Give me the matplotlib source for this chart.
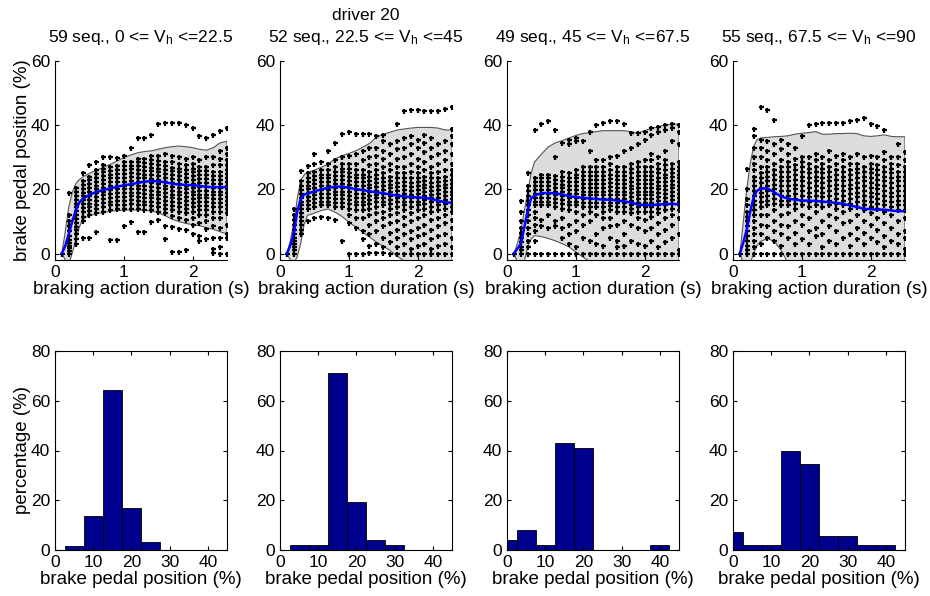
import numpy as np
import matplotlib.pyplot as plt

plt.rcParams['font.family'] = ['Liberation Sans', 'DejaVu Sans']
plt.rcParams['mathtext.fontset'] = 'custom'
plt.rcParams['mathtext.rm'] = 'Liberation Sans'
plt.rcParams['mathtext.it'] = 'Liberation Sans'
plt.rcParams['font.size'] = 12

# --- sampled brake pedal positions per 0.1 s column ---
col_t = [0.1, 0.2, 0.3, 0.4, 0.5, 0.6, 0.7, 0.8, 0.9, 1.0, 1.1, 1.2, 1.3,
         1.4, 1.5, 1.6, 1.7, 1.8, 1.9, 2.0, 2.1, 2.2, 2.3, 2.4, 2.5]

cols_v1 = [
    [0],
    [0, 0.8, 1.6, 2.5, 3.4, 4.3, 5.5, 7, 8.5, 10, 12, 19],
    [3, 4.5, 6, 7.2, 8.4, 9.6, 10.8, 12, 13.2, 14.4, 15.6, 16.8, 18, 19.2, 20.4],
    [5, 10, 11.5, 13, 14.2, 15.4, 16.6, 17.8, 19, 20.2, 21.4, 22.6, 25],
    [5, 12, 13.2, 14.4, 15.6, 16.8, 18, 19.2, 20.4, 21.6, 22.8, 24, 27.5],
    [6.6, 12.5, 14, 15.2, 16.4, 17.6, 18.8, 20, 21.2, 22.4, 23.6, 24.8, 26, 28.5],
    [13, 14.5, 15.7, 16.9, 18.1, 19.3, 20.5, 21.7, 22.9, 24.1, 25.3, 26.5, 27.7, 30],
    [4.2, 13.5, 15, 16.2, 17.4, 18.6, 19.8, 21, 22.2, 23.4, 24.6, 25.8, 27, 30],
    [4.2, 13.8, 15.2, 16.4, 17.6, 18.8, 20, 21.2, 22.4, 23.6, 24.8, 26, 27.2, 29.8],
    [8.5, 13.8, 15.2, 16.4, 17.6, 18.8, 20, 21.2, 22.4, 23.6, 24.8, 26, 27.2, 28.4, 30.5],
    [9.7, 14, 15.4, 16.6, 17.8, 19, 20.2, 21.4, 22.6, 23.8, 25, 26.2, 27.4, 28.6, 33],
    [6.8, 13.8, 15.2, 16.4, 17.6, 18.8, 20, 21.2, 22.4, 23.6, 24.8, 26, 27.2, 28.4, 29.6, 36],
    [6.8, 13.5, 15, 16.2, 17.4, 18.6, 19.8, 21, 22.2, 23.4, 24.6, 25.8, 27, 28.2, 29.4, 36],
    [9.8, 13.5, 14.8, 16, 17.2, 18.4, 19.6, 20.8, 22, 23.2, 24.4, 25.6, 26.8, 28, 29.2, 30.4, 37],
    [10.5, 13, 14.5, 15.7, 16.9, 18.1, 19.3, 20.5, 21.7, 22.9, 24.1, 25.3, 26.5, 27.7, 28.9, 30.5, 40.3],
    [4.5, 8.7, 12.5, 14, 15.2, 16.4, 17.6, 18.8, 20, 21.2, 22.4, 23.6, 24.8, 26, 27.2, 28.4, 31, 40.7],
    [0.5, 8.2, 11.8, 13.5, 14.8, 16, 17.2, 18.4, 19.6, 20.8, 22, 23.2, 24.4, 25.6, 26.8, 28.5, 30.5, 40.7],
    [0.5, 7.6, 11, 13, 14.5, 15.7, 16.9, 18.1, 19.3, 20.5, 21.7, 22.9, 24.1, 25.3, 26.5, 28, 30, 40.7],
    [1.2, 7.5, 10.5, 12.5, 14, 15.2, 16.4, 17.6, 18.8, 20, 21.2, 22.4, 23.6, 24.8, 26, 27.5, 29.5, 40],
    [6, 9, 11, 13, 14.5, 15.7, 16.9, 18.1, 19.3, 20.5, 21.7, 22.9, 24.1, 25.3, 26.5, 28, 30, 39],
    [4, 5.6, 9.5, 12, 13.5, 14.8, 16, 17.2, 18.4, 19.6, 20.8, 22, 23.2, 24.4, 25.6, 27, 29, 36.6],
    [4.5, 7.6, 10, 12, 13.5, 14.8, 16, 17.2, 18.4, 19.6, 20.8, 22, 23.2, 24.4, 25.6, 27, 30, 36],
    [0.3, 1.5, 5, 8.5, 11, 13, 14.5, 15.7, 16.9, 18.1, 19.3, 20.5, 21.7, 22.9, 24.1, 25.5, 27.5, 30, 37],
    [0, 2, 5, 8, 11, 13, 14.5, 15.7, 16.9, 18.1, 19.3, 20.5, 21.7, 22.9, 24.1, 25.5, 27.5, 29.5, 32, 38.3],
    [0, 4.8, 6, 9, 12.5, 14, 15.2, 16.4, 17.6, 18.8, 20, 21.2, 22.4, 23.6, 24.8, 26, 27.5, 29, 31, 33, 39],
]

cols_v2 = [
    [0],
    [0, 1, 2, 3, 4, 5, 6, 7.5, 9, 10.5, 12, 14],
    [6, 7.5, 9, 10.2, 11.4, 12.6, 13.8, 15, 16.2, 17.4, 18.6, 19.8, 21, 22.5, 25.8],
    [10, 14, 15.2, 16.4, 17.6, 18.8, 20, 21.2, 22.4, 23.6, 25, 27.4],
    [11, 14.5, 15.7, 16.9, 18.1, 19.3, 20.5, 21.7, 22.9, 24.1, 25.5, 28, 31],
    [11.5, 15, 16.2, 17.4, 18.6, 19.8, 21, 22.2, 23.4, 24.6, 26, 28.4],
    [11, 15, 16.2, 17.4, 18.6, 19.8, 21, 22.2, 23.4, 24.6, 26, 28, 32],
    [10.5, 14.5, 15.7, 16.9, 18.1, 19.3, 20.5, 21.7, 22.9, 24.1, 25.3, 27, 29, 34.6],
    [4, 14.5, 15.7, 16.9, 18.1, 19.3, 20.5, 21.7, 22.9, 24.1, 25.3, 26.5, 28, 30, 37.4],
    [0, 9.5, 12, 14, 15.5, 16.7, 17.9, 19.1, 20.3, 21.5, 22.7, 23.9, 25.1, 26.5, 28, 30.5, 37.8],
    [0, 8, 11, 13.5, 15, 16.2, 17.4, 18.6, 19.8, 21, 22.2, 23.4, 24.6, 26, 28, 31, 37.4],
    [0, 4.5, 7, 11, 13.5, 15, 16.2, 17.4, 18.6, 19.8, 21, 22.2, 23.4, 24.6, 26, 29, 32, 37.4],
    [0.3, 2.5, 6, 9, 12, 14, 15.5, 16.7, 17.9, 19.1, 20.3, 21.5, 22.7, 24, 25.5, 27.5, 30, 33, 37.2],
    [0.3, 3, 7, 10, 12.5, 14.5, 16, 17.2, 18.4, 19.6, 20.8, 22, 23.2, 24.5, 26, 28, 30.5, 33, 36.7],
    [0.3, 2, 5, 8.5, 11, 13, 15, 16.2, 17.4, 18.6, 19.8, 21, 22.2, 23.5, 25, 27, 29.5, 32, 35, 36.9],
    [0, 3.5, 6.5, 9.5, 12, 14, 15.5, 16.7, 17.9, 19.1, 20.3, 21.5, 22.7, 24, 26, 28, 31, 34],
    [0, 2, 5, 7.5, 10, 12.5, 14.5, 16, 17.2, 18.4, 19.6, 20.8, 22, 23.5, 25, 27, 29.5, 32.5, 35, 40.3],
    [0, 3, 6, 9, 11.5, 13.5, 15, 16.2, 17.4, 18.6, 19.8, 21, 22.2, 23.5, 25, 27, 30, 33, 36, 44.3],
    [0, 1.5, 4.5, 7, 10, 12.5, 14.5, 16, 17.2, 18.4, 19.6, 20.8, 22, 23.5, 25.5, 28, 31, 34, 36.5, 44.8],
    [0, 2.5, 5.5, 8, 11, 13.5, 15, 16.2, 17.4, 18.6, 19.8, 21, 22.2, 23.5, 25, 27, 29.5, 33, 35.5, 44.8],
    [0, 3, 6, 9, 12, 14, 15.5, 16.7, 17.9, 19.1, 20.3, 21.5, 22.7, 24, 26, 28.5, 31.5, 34.5, 37, 44.5],
    [0, 1.5, 4.5, 7.5, 10.5, 13, 14.5, 16, 17.2, 18.4, 19.6, 20.8, 22, 23.5, 25, 27, 30, 33, 36, 44.3],
    [0, 2.5, 5.5, 8.5, 11, 13.5, 15, 16.2, 17.4, 18.6, 19.8, 21, 22.2, 23.5, 25.5, 28, 31, 34, 44.3],
    [0, 3, 6, 9.5, 12, 14, 15.5, 16.7, 17.9, 19.1, 20.3, 21.5, 22.7, 24, 26, 29, 32, 35, 45.2],
    [0, 2, 5, 8, 10.5, 13, 14.5, 15.7, 16.9, 18.1, 19.3, 20.5, 21.7, 23, 24.5, 26, 28, 31, 34, 36.5, 38.8, 45.8],
]

cols_v3 = [
    [0],
    [0, 1, 2, 3.5, 5, 6.5, 8, 10, 13, 16.5],
    [0, 2, 4, 6, 8, 10, 12, 13.5, 15, 16.5, 18, 19.5, 21, 25],
    [0, 4, 7, 9, 11, 13, 15, 16.2, 17.4, 18.6, 19.8, 21, 22.2, 23.5, 38.6],
    [0, 8.5, 10.5, 15, 16.2, 17.4, 18.6, 19.8, 21, 22.2, 23.5, 24.5, 40.3],
    [0, 8, 12, 15, 16.2, 17.4, 18.6, 19.8, 21, 22.2, 23.5, 24.5, 41.4],
    [0, 8.5, 10, 14.5, 15.7, 16.9, 18.1, 19.3, 20.5, 21.7, 22.9, 24.2, 30, 38.6],
    [0, 5, 8, 11, 14, 15.5, 16.7, 17.9, 19.1, 20.3, 21.5, 22.7, 24, 25.5, 34.5],
    [0, 3, 6, 9, 13.5, 15, 16.2, 17.4, 18.6, 19.8, 21, 22.2, 23.4, 25, 34, 35.5],
    [0, 2, 7, 10, 13, 15, 16.2, 17.4, 18.6, 19.8, 21, 22.2, 23.4, 24.6, 26, 35, 36],
    [0, 5, 9, 12, 14.5, 15.7, 16.9, 18.1, 19.3, 20.5, 21.7, 22.9, 24.1, 25.5, 27, 35],
    [0, 4, 10, 13, 14.5, 15.7, 16.9, 18.1, 19.3, 20.5, 21.7, 22.9, 24.1, 25.5, 27, 32, 38],
    [0, 3, 6, 12, 14.5, 15.7, 16.9, 18.1, 19.3, 20.5, 21.7, 22.9, 24.1, 25.5, 27, 29, 40],
    [0, 2.5, 8, 11, 13, 14.5, 15.7, 16.9, 18.1, 19.3, 20.5, 21.7, 22.9, 24.1, 25.5, 27, 29, 40.6],
    [0, 5, 8.5, 11, 13.5, 14.7, 15.9, 17.1, 18.3, 19.5, 20.7, 21.9, 23.1, 24.5, 26, 28, 30, 41.4],
    [0, 2, 4, 9, 13, 14.5, 15.7, 16.9, 18.1, 19.3, 20.5, 21.7, 22.9, 24.1, 25.5, 27, 30.5, 41.4],
    [0, 2.5, 6, 10, 13, 14.5, 15.7, 16.9, 18.1, 19.3, 20.5, 21.7, 22.9, 24.1, 25.5, 27, 32, 40.3],
    [0, 4, 9, 12.5, 14, 15.2, 16.4, 17.6, 18.8, 20, 21.2, 22.4, 23.6, 25, 26.5, 28, 33, 37.7],
    [0, 3, 8, 11, 13, 14.5, 15.7, 16.9, 18.1, 19.3, 20.5, 21.7, 22.9, 24.1, 25.5, 27, 28.5, 34, 37.5],
    [0, 2.5, 7, 10.5, 13, 14.5, 15.7, 16.9, 18.1, 19.3, 20.5, 21.7, 22.9, 24.1, 25.5, 27, 29, 35.5, 38],
    [0, 4, 8, 11.5, 13, 14.5, 15.7, 16.9, 18.1, 19.3, 20.5, 21.7, 22.9, 24.1, 25.5, 27, 29, 31, 37, 39],
    [0, 2, 6, 9.5, 12.5, 14, 15.2, 16.4, 17.6, 18.8, 20, 21.2, 22.4, 23.6, 25, 26.5, 28, 30, 38, 39.5],
    [0, 3.5, 7.5, 11, 13.5, 15, 16.2, 17.4, 18.6, 19.8, 21, 22.2, 23.4, 24.6, 26, 27.5, 29, 32, 38.5, 40],
    [0, 5, 9, 12, 14, 15.5, 16.7, 17.9, 19.1, 20.3, 21.5, 22.7, 23.9, 25.1, 26.5, 28, 35, 39, 40.3],
    [0, 1, 6, 11, 13.5, 15, 16.2, 17.4, 18.6, 19.8, 21, 22.2, 23.4, 24.6, 25.8, 27, 28.5, 34, 38, 40],
]

cols_v4 = [
    [0],
    [0, 1, 2.5, 4, 5.5, 7, 8.5, 10, 11.5, 13, 15, 17, 20, 26.4],
    [0, 2, 4, 6, 8, 10, 12, 13.5, 15, 16.5, 18, 19.5, 21, 22.5, 24, 26, 28, 30, 33, 36.7, 38.8],
    [0, 3, 6, 9, 12, 14.5, 16, 17.5, 19, 20.5, 22, 23.5, 25, 27, 30, 33, 35.5, 45.7],
    [0, 5, 8.5, 12, 15, 16.5, 18, 19.5, 21, 22.5, 24, 25.5, 27, 29, 32, 35, 44.7],
    [0, 4, 7, 10, 13.5, 15.5, 17, 18.5, 20, 21.5, 23, 24.5, 26, 28, 31, 34, 41.6],
    [0, 2.5, 6, 9, 12, 15, 16.5, 18, 19.5, 21, 22.5, 24, 25.5, 27, 29, 32.5, 35.5],
    [0, 5, 8.5, 12.5, 15, 16.5, 18, 19.5, 21, 22.5, 24, 25.5, 27, 28.5, 31, 34],
    [0, 3, 6.5, 10, 14, 15.5, 17, 18.5, 20, 21.5, 23, 24.5, 26, 27.5, 29.5, 33],
    [0, 4.5, 9, 12, 15, 16.5, 18, 19.5, 21, 22.5, 24, 25.5, 27, 28.5, 30, 36.5],
    [0, 3, 7, 11, 14.5, 16, 17.5, 19, 20.5, 22, 23.5, 25, 26.5, 28, 30, 40],
    [0, 5.5, 8, 13, 15, 16.5, 18, 19.5, 21, 22.5, 24, 25.5, 27, 29, 31, 40.5],
    [0, 2, 6, 10, 14.5, 16, 17.5, 19, 20.5, 22, 23.5, 25, 26.5, 28, 30, 40.6],
    [0, 4, 8.5, 12, 15, 16.5, 18, 19.5, 21, 22.5, 24, 25.5, 27, 29, 32, 40.6],
    [0, 3, 7, 11, 14, 15.5, 17, 18.5, 20, 21.5, 23, 24.5, 26, 28, 30.5, 40.8],
    [0, 5, 9.5, 13, 15, 16.5, 18, 19.5, 21, 22.5, 24, 25.5, 27, 29, 31, 40.8],
    [0, 2.5, 6, 10, 14, 15.5, 17, 18.5, 20, 21.5, 23, 24.5, 26, 28, 30, 41.4],
    [0, 4.5, 8, 12, 14.5, 16, 17.5, 19, 20.5, 22, 23.5, 25, 26.5, 28, 31, 41.6],
    [0, 3, 6.5, 10, 13.5, 15, 16.5, 18, 19.5, 21, 22.5, 24, 25.5, 27, 30, 42.1],
    [0, 5, 9, 12.5, 14.5, 16, 17.5, 19, 20.5, 22, 23.5, 25, 26.5, 28, 30.5, 40.5],
    [0, 3.5, 7.5, 11, 14, 15.5, 17, 18.5, 20, 21.5, 23, 24.5, 26, 27.5, 30, 39.6],
    [0, 2, 5.5, 9.5, 13, 15, 16.5, 18, 19.5, 21, 22.5, 24, 25.5, 27, 29, 31.5, 38.6],
    [0, 4, 8, 12, 14.5, 16, 17.5, 19, 20.5, 22, 23.5, 25, 26.5, 28, 30],
    [0, 3, 6, 10, 13.5, 15, 16.5, 18, 19.5, 21, 22.5, 24, 25.5, 27.5, 30, 34],
    [0, 1.5, 5, 7, 11, 13.5, 15, 16.5, 18, 19.5, 21, 22.5, 24, 25.5, 27, 29, 31.5],
]

# --- envelope (gray band) and mean curve ---
env_t = [0.1, 0.15, 0.2, 0.25, 0.3, 0.35, 0.4, 0.5, 0.6, 0.7, 0.8, 0.9, 1.0, 1.1,
         1.2, 1.3, 1.4, 1.5, 1.6, 1.7, 1.8, 1.9, 2.0, 2.1, 2.2, 2.3, 2.4, 2.5]

upper1 = [0, 7, 14.5, 19, 21.7, 23, 23.8, 25, 26, 26.8, 27.8, 28.8, 29.9, 30.7,
          31.4, 31.8, 32, 32.5, 33, 33.3, 33.5, 33.3, 33, 32.5, 32.2, 33, 34.5, 35]
lower1 = [0, -2, -3, 0, 4, 8, 10.7, 11.8, 12.4, 12.8, 13.2, 13.4, 13.5, 13.6,
          13.6, 13.5, 13.2, 12.8, 11.8, 10.7, 10, 9.4, 9, 8.7, 8.1, 7.6, 6.8, 6.1]
mean1 = [0, 2.5, 6, 10, 13.3, 15.8, 17, 18.3, 19.2, 19.8, 20.3, 20.8, 21.3, 21.6,
         22, 22.4, 22.6, 22.5, 22.2, 21.8, 21.5, 21.4, 21.3, 21.1, 20.8, 20.7, 20.7, 20.7]

upper2 = [0, 4, 9.3, 17, 22.7, 24.5, 25.3, 26, 26.9, 27.9, 29.5, 30.5, 31.2, 32,
          33.1, 34.3, 36.2, 37.2, 37.8, 38.5, 38.8, 39.1, 39.3, 39.3, 39.3, 39.1, 38.5, 38.5]
lower2 = [0, -2, -3, -1, 3, 9, 11.9, 12.6, 13.4, 13.9, 12.9, 11.6, 9.8, 8.3,
          6.7, 5.2, 3.6, 2.3, 1, -0.8, -2.2, -3, -4.5, -6, -7, -8, -9, -10]
mean2 = [0, 2.5, 6.2, 13, 17, 18.4, 18.7, 19.4, 20, 20.5, 20.8, 20.9, 20.5, 20.1,
         19.8, 19.4, 19.1, 18.8, 18.4, 18.1, 17.8, 17.6, 17.5, 17.4, 17, 16.5, 16, 15.8]

upper3 = [0, 3, 7, 13, 19, 25, 28.5, 31, 33.2, 34.5, 35.2, 36, 36.8, 37.4,
          37.7, 38, 38.3, 38.3, 38.3, 38.3, 38, 37.5, 38.3, 39, 39.5, 40.1, 40.3, 40.3]
lower3 = [0, -2.5, -3.5, -2.5, 2, 4.5, 5.6, 5.3, 4.7, 4, 3.1, 2.1, 0.5, -1,
          -2.5, -4, -5, -6, -6, -6, -6, -6, -6, -6, -6, -6, -6, -6]
mean3 = [0, 1.5, 3, 8, 13.4, 17.2, 18.1, 18.8, 18.9, 18.8, 18.4, 17.9, 17.6, 17.4,
         17.2, 17, 16.8, 16.8, 16.5, 16.3, 15.9, 15.3, 15.1, 15.1, 15.3, 15.4, 15.5, 15.3]

upper4 = [0, 10, 20, 28, 33.5, 35.5, 36, 36.2, 36.4, 36.5, 36.7, 37.2, 37.5, 37.7,
          38, 37.2, 37.2, 37.4, 37.4, 37.5, 37.4, 36.7, 36.5, 36.7, 37, 36.5, 36.4, 36.4]
lower4 = [0, -3, -4, -3, 0, 2.5, 3.8, 4.7, 3.8, 1, -3, -6, -8, -8,
          -8, -8, -8, -8, -8, -8, -8, -8, -8, -8, -8, -8, -8, -8]
mean4 = [0, 3.5, 7.5, 13, 17.6, 19.6, 20.2, 20.3, 19.1, 17.8, 17.1, 16.8, 16.5, 16.5,
         16.4, 16.2, 16, 15.8, 15.5, 15, 14.5, 14, 13.8, 13.7, 13.7, 13.4, 13.2, 13.2]

# --- histogram of brake pedal position (sequence counts per 5 % bin) ---
bin_centres = [0, 5, 10, 15, 20, 25, 30, 35, 40]
counts1 = [0, 1, 8, 38, 10, 2, 0, 0, 0]
counts2 = [0, 1, 1, 37, 10, 2, 1, 0, 0]
counts3 = [2, 4, 1, 21, 20, 0, 0, 0, 1]
counts4 = [4, 1, 1, 22, 19, 3, 3, 1, 1]

n_seq = [59, 52, 49, 55]
titles = [r'59 seq., 0 <= $\mathrm{V_h}$ <=22.5',
          r'52 seq., 22.5 <= $\mathrm{V_h}$ <=45',
          r'49 seq., 45 <= $\mathrm{V_h}$ <=67.5',
          r'55 seq., 67.5 <= $\mathrm{V_h}$ <=90']

all_cols = [cols_v1, cols_v2, cols_v3, cols_v4]
uppers = [upper1, upper2, upper3, upper4]
lowers = [lower1, lower2, lower3, lower4]
means = [mean1, mean2, mean3, mean4]
all_counts = [counts1, counts2, counts3, counts4]

W, H = 930, 596
fig = plt.figure(figsize=(W / 100, H / 100), dpi=100)

lefts = [55, 280, 507, 733]
width = 172
LABEL_FS = 13.5
TICK_FS = 12.5


def px_axes(x0, y_top, w, h):
    return fig.add_axes([x0 / W, 1 - (y_top + h) / H, w / W, h / H])


for i in range(4):
    # upper row: pedal position vs time
    ax = px_axes(lefts[i], 61, width, 199)
    t = np.array(env_t)
    lo = np.array(lowers[i])
    up = np.array(uppers[i])
    ax.fill(np.r_[t, t[::-1]], np.r_[lo, up[::-1]], facecolor='#dcdcdc',
            edgecolor='#555555', linewidth=0.8, zorder=1)
    xs = np.concatenate([[col_t[k]] * len(v) for k, v in enumerate(all_cols[i])])
    ys = np.concatenate([v for v in all_cols[i]])
    ax.plot(xs, ys, linestyle='none', marker='+', color='black',
            markersize=3.6, markeredgewidth=1.6, zorder=2)
    ax.plot(env_t, means[i], color='#0000ff', linewidth=1.8, zorder=3)
    ax.set_xlim(0, 2.5)
    ax.set_ylim(-2, 60)
    ax.set_xticks([0, 1, 2])
    ax.set_yticks([0, 20, 40, 60])
    ax.spines['top'].set_visible(False)
    ax.spines['right'].set_visible(False)
    ax.tick_params(direction='in', length=3, labelsize=TICK_FS)
    ax.set_xlabel('braking action duration (s)', fontsize=LABEL_FS, labelpad=1)
    ax.set_title(titles[i], fontsize=12.5, pad=14)
    if i == 0:
        ax.set_ylabel('brake pedal position (%)', fontsize=LABEL_FS, labelpad=0)

    # lower row: histogram of pedal position
    hx = px_axes(lefts[i], 351, width, 199)
    pct = np.array(all_counts[i]) / n_seq[i] * 100
    hx.bar(bin_centres, pct, width=5, color='#00008f', edgecolor='black',
           linewidth=0.6)
    hx.set_xlim(0, 45)
    hx.set_ylim(0, 80)
    hx.set_xticks([0, 10, 20, 30, 40])
    hx.set_yticks([0, 20, 40, 60, 80])
    hx.tick_params(direction='in', length=3, top=True, right=True, labelsize=TICK_FS)
    hx.set_xlabel('brake pedal position (%)', fontsize=LABEL_FS, labelpad=1)
    if i == 0:
        hx.set_ylabel('percentage (%)', fontsize=LABEL_FS, labelpad=0)

fig.text((lefts[1] + width / 2) / W, 1 - 20 / H, 'driver 20', ha='center',
         va='baseline', fontsize=12.5)

fig.savefig('out.png', dpi=100)
